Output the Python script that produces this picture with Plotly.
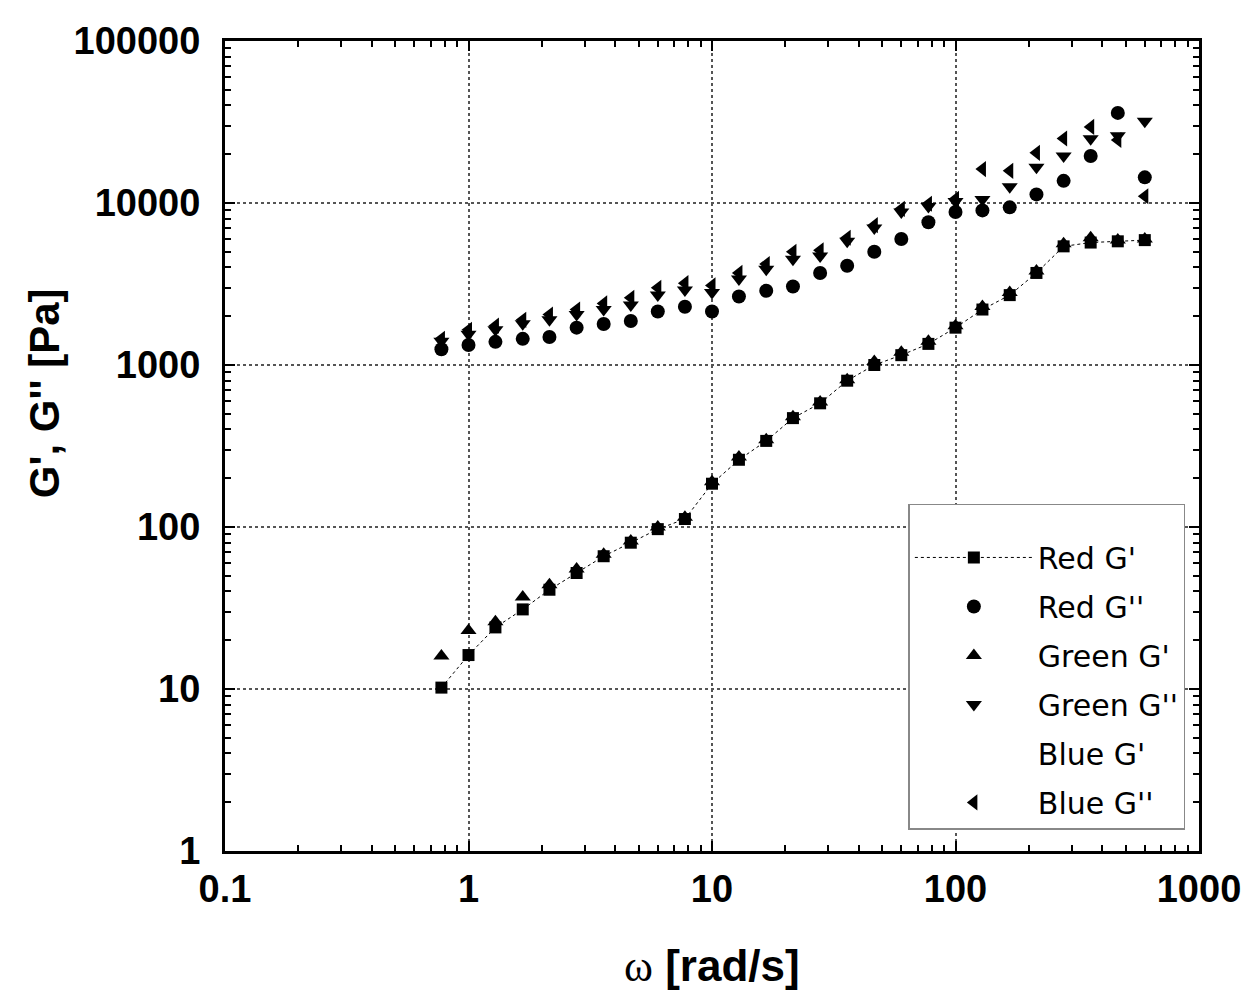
import plotly.graph_objects as go

freq = [0.774, 1, 1.29, 1.67, 2.15, 2.78, 3.59, 4.64, 5.99, 7.74, 10, 12.9, 16.7, 21.5,
        27.8, 35.9, 46.4, 59.9, 77.4, 100, 129, 167, 215, 278, 359, 464, 599]

red_g1 = [10.2, 16.2, 24, 31, 41, 52, 66, 80, 97, 112, 185, 260, 340, 470,
          580, 800, 1000, 1150, 1350, 1700, 2200, 2700, 3700, 5400, 5700, 5800, 5900]
red_g2 = [1250, 1330, 1390, 1450, 1490, 1700, 1790, 1870, 2140, 2290, 2140, 2650, 2870, 3050,
          3700, 4100, 5000, 6000, 7600, 8800, 9000, 9400, 11300, 13700, 19500, 36000, 14400]
green_g1 = [16, 23, 26, 37, 44, 55, 68, 82, 100, 115, 190, 270, 345, 480,
            590, 810, 1050, 1200, 1400, 1750, 2300, 2800, 3800, 5600, 6100, 5900, 6000]
green_g2 = [1400, 1550, 1650, 1800, 1900, 2050, 2200, 2350, 2700, 2900, 2800, 3400, 3900, 4500,
            4700, 5800, 7000, 8800, 9500, 10200, 10500, 12600, 16600, 19500, 24900, 26000, 32000]
blue_g1 = [10.5, 16.5, 24, 32, 42, 53, 67, 81, 98, 113, 187, 262, 342, 475,
           585, 805, 1020, 1170, 1370, 1720, 2250, 2750, 3750, 5500, 5900, 5850, 5950]
blue_g2 = [1450, 1650, 1750, 1900, 2050, 2200, 2400, 2600, 3000, 3200, 3100, 3700, 4200, 5000,
           5100, 6100, 7300, 9200, 9900, 10600, 16200, 15800, 20400, 25000, 29500, 24500, 11000]

x_tickvals = [0.1, 1, 10, 100, 1000]
x_ticktext = ["0.1", "1", "10", "100", "1000"]
y_tickvals = [1, 10, 100, 1000, 10000, 100000]
y_ticktext = ["1", "10", "100", "1000", "10000", "100000"]

x_title = "<span style='font-family:Liberation Serif;font-weight:normal'>ω</span> [rad/s]"
y_title = "G', G'' [Pa]"

fig = go.Figure()

fig.add_trace(go.Scatter(x=freq, y=red_g1, name="Red G'", legendgroup="a",
                         mode="lines+markers",
                         line=dict(color="black", width=1, dash="dot"),
                         marker=dict(symbol="square", size=12, color="black")))
fig.add_trace(go.Scatter(x=freq, y=red_g2, name="Red G''", legendgroup="b",
                         mode="markers",
                         marker=dict(symbol="circle", size=14, color="black")))
fig.add_trace(go.Scatter(x=freq, y=green_g1, name="Green G'", legendgroup="c",
                         mode="markers",
                         marker=dict(symbol="triangle-up", size=14, color="black")))
fig.add_trace(go.Scatter(x=freq, y=green_g2, name="Green G''", legendgroup="d",
                         mode="markers",
                         marker=dict(symbol="triangle-down", size=14, color="black")))
fig.add_trace(go.Scatter(x=freq, y=blue_g1, name="Blue G'", legendgroup="e",
                         mode="markers",
                         marker=dict(symbol="square", size=12, color="rgba(0,0,0,0)")))
fig.add_trace(go.Scatter(x=freq, y=blue_g2, name="Blue G''", legendgroup="f",
                         mode="markers",
                         marker=dict(symbol="triangle-left", size=14, color="black")))

tickfont = dict(family="Liberation Sans, Arial", size=38, color="black", weight="bold")
titlefont = dict(family="Liberation Sans, Arial", size=44, color="black", weight="bold")

common = dict(
    type="log", showline=True, linecolor="black", linewidth=3, mirror="allticks",
    ticks="inside", ticklen=10, tickwidth=2, tickcolor="black",
    showgrid=True, gridcolor="#555555", griddash="dot", gridwidth=1.5,
    zeroline=False, tickfont=tickfont,
    minor=dict(ticks="inside", ticklen=6, tickwidth=1.5, tickcolor="black",
               dtick="D1", showgrid=False),
)

fig.update_xaxes(range=[-1, 3], tickvals=x_tickvals, ticktext=x_ticktext,
                 ticklabelstandoff=2, **common)
fig.update_yaxes(range=[0, 5], tickvals=y_tickvals, ticktext=y_ticktext,
                 ticklabelstandoff=14, **common)

fig.add_annotation(text=x_title, xref="paper", yref="paper", x=0.5, y=-0.142,
                   xanchor="center", yanchor="middle", showarrow=False, font=titlefont)
fig.add_annotation(text=y_title, xref="paper", yref="paper", x=-0.185, y=0.565,
                   xanchor="center", yanchor="middle", showarrow=False, textangle=-90,
                   font=dict(family="Liberation Sans, Arial", size=42, color="black",
                             weight="bold"))

fig.update_layout(
    width=1253, height=994,
    margin=dict(l=217, r=62, t=33, b=151),
    paper_bgcolor="white", plot_bgcolor="white",
    showlegend=True,
    legend=dict(x=0.986, y=0.026, xanchor="right", yanchor="bottom",
                bgcolor="white", bordercolor="#888888", borderwidth=1.5,
                font=dict(family="DejaVu Sans", size=30, color="black"),
                title=dict(text=" ", font=dict(size=20)),
                traceorder="grouped", tracegroupgap=7, itemwidth=118),
)

fig.write_html("out.html")
